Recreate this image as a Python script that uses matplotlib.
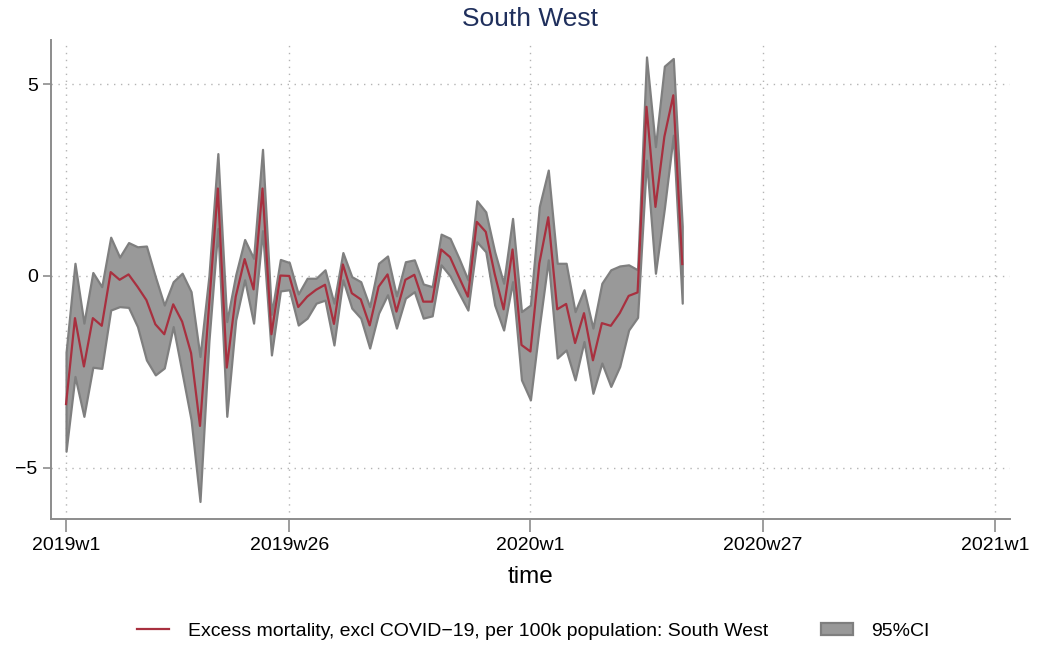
import numpy as np
import matplotlib
matplotlib.use("Agg")
from matplotlib import pyplot as plt
from matplotlib.patches import Patch
from matplotlib.lines import Line2D

plt.rcParams['font.family'] = ['Liberation Sans', 'DejaVu Sans']

# Týždne od 2019w1 (Stata: 52 týždňov na rok)
weeks = np.arange(70)

excess = [-3.34, -1.10, -2.36, -1.10, -1.30, 0.10, -0.10, 0.04, -0.28, -0.63,
          -1.26, -1.52, -0.74, -1.19, -2.01, -3.91, -0.82, 2.28, -2.39, -0.54,
          0.44, -0.35, 2.28, -1.52, 0.01, 0.00, -0.81, -0.54, -0.36, -0.23,
          -1.25, 0.30, -0.45, -0.61, -1.29, -0.28, 0.04, -0.93, -0.10, 0.03,
          -0.67, -0.67, 0.69, 0.49, -0.03, -0.54, 1.41, 1.15, 0.05, -0.87,
          0.69, -1.80, -1.97, 0.33, 1.53, -0.87, -0.73, -1.75, -0.97, -2.20,
          -1.23, -1.30, -0.97, -0.52, -0.43, 4.41, 1.80, 3.63, 4.71, 0.31]

ci_upper = [-2.00, 0.33, -1.23, 0.09, -0.28, 1.01, 0.49, 0.87, 0.76, 0.78,
            -0.02, -0.76, -0.15, 0.07, -0.41, -2.10, 0.00, 3.19, -1.19, 0.03,
            0.95, 0.46, 3.30, -1.00, 0.43, 0.35, -0.47, -0.06, -0.06, 0.16,
            -0.71, 0.61, -0.02, -0.15, -0.80, 0.33, 0.52, -0.52, 0.37, 0.42,
            -0.21, -0.28, 1.09, 0.98, 0.46, -0.10, 1.96, 1.67, 0.63, -0.19,
            1.50, -0.93, -0.76, 1.81, 2.76, 0.33, 0.33, -0.93, -0.36, -1.36,
            -0.19, 0.16, 0.26, 0.29, 0.16, 5.71, 3.37, 5.47, 5.67, 1.30]

ci_lower = [-4.57, -2.62, -3.66, -2.38, -2.41, -0.89, -0.80, -0.82, -1.32, -2.19,
            -2.58, -2.40, -1.32, -2.53, -3.75, -5.88, -1.70, 1.24, -3.66, -1.15,
            -0.10, -1.23, 1.18, -2.06, -0.39, -0.36, -1.28, -1.10, -0.71, -0.63,
            -1.80, -0.10, -0.84, -1.10, -1.88, -0.97, -0.49, -1.36, -0.58, -0.41,
            -1.10, -1.04, 0.29, 0.00, -0.45, -0.89, 0.89, 0.63, -0.76, -1.41,
            -0.15, -2.71, -3.23, -1.32, 0.42, -2.14, -1.93, -2.71, -1.71, -3.06,
            -2.27, -2.88, -2.36, -1.41, -1.08, 3.02, 0.07, 1.76, 3.67, -0.71]

xtick_pos = [0, 25, 52, 78, 104]
xtick_labels = ['2019w1', '2019w26', '2020w1', '2020w27', '2021w1']
ytick_pos = [-5, 0, 5]

line_color = '#a8303f'
fill_color = '#999999'
edge_color = '#7f7f7f'
axis_color = '#8c8c8c'
grid_color = '#b4b4b4'

fig = plt.figure(figsize=(10.38, 6.46), dpi=100)
ax = fig.add_axes([0.049, 0.197, 0.924, 0.741])

ax.fill_between(weeks, ci_lower, ci_upper, facecolor=fill_color,
                edgecolor=edge_color, linewidth=1.6, zorder=2)
ax.plot(weeks, excess, color=line_color, lw=1.6, zorder=3)

ax.set_xlim(-1.7, 105.7)
ax.set_ylim(-6.33, 6.15)

ax.set_xticks(xtick_pos)
ax.set_xticklabels(xtick_labels, fontsize=14)
ax.set_yticks(ytick_pos)
ax.tick_params(axis='y', labelsize=14, length=6, color=axis_color, width=1.2)
ax.tick_params(axis='x', length=9, color=axis_color, width=1.2, pad=4)

ax.grid(True, color=grid_color, linestyle=(0, (1, 4)), linewidth=1.0, zorder=0)

for side in ['top', 'right']:
    ax.spines[side].set_visible(False)
for side in ['left', 'bottom']:
    ax.spines[side].set_color(axis_color)
    ax.spines[side].set_linewidth(1.4)

ax.set_xlabel('time', fontsize=17.5, labelpad=9)
ax.set_title('South West', fontsize=19, color='#1f2f5c', pad=10)

handles = [Line2D([0], [0], color=line_color, lw=1.6),
           Patch(facecolor=fill_color, edgecolor=edge_color, linewidth=1.6)]
labels = ['Excess mortality, excl COVID\u221219, per 100k population: South West', '95%CI']
fig.legend(handles, labels, loc='center', bbox_to_anchor=(0.514, 0.023), ncol=2,
           frameon=False, fontsize=14, handlelength=1.65, handleheight=0.6,
           columnspacing=2.7, handletextpad=0.95)

fig.savefig('out.png', dpi=100, facecolor='white')
